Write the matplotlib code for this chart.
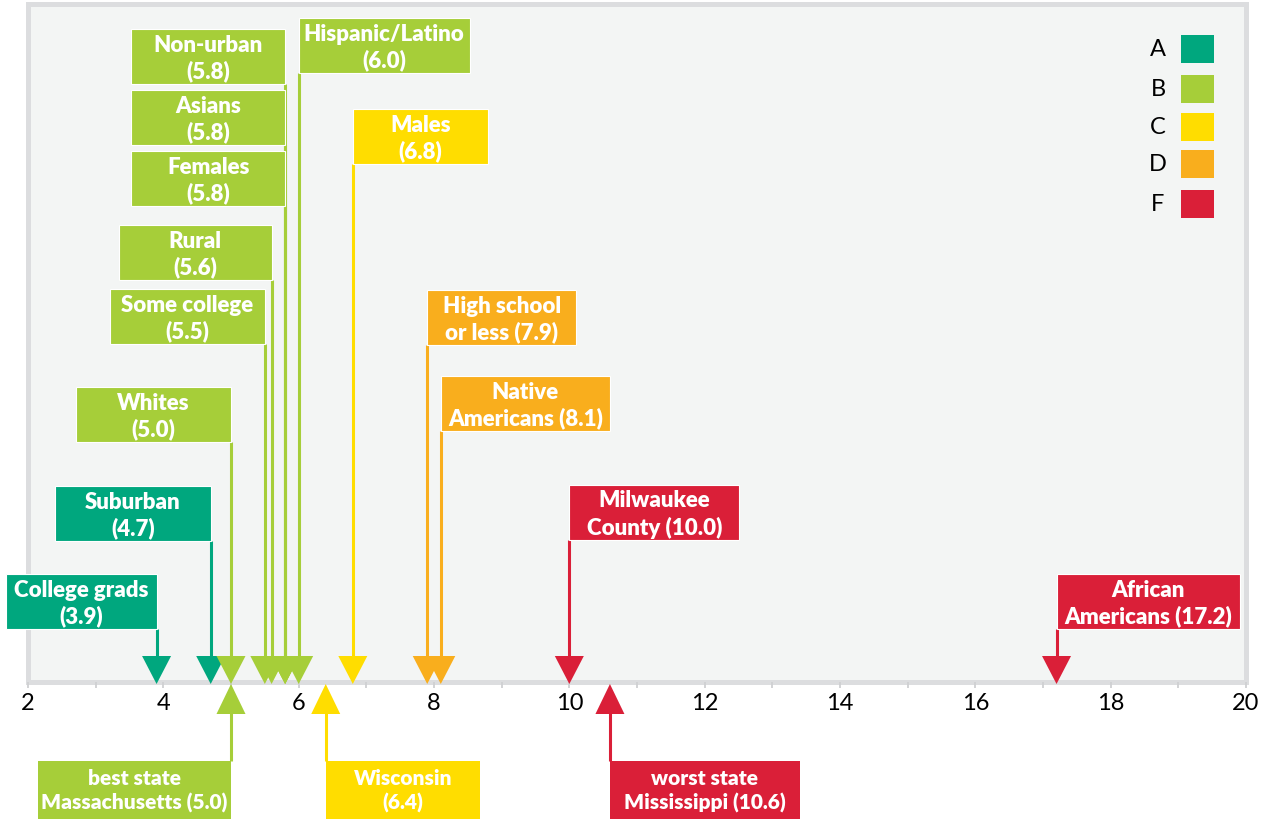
import numpy as np
import matplotlib
matplotlib.use('Agg')
import matplotlib.pyplot as plt
from matplotlib.patches import Rectangle, Polygon

# grades and their colours
grade_names = ['A', 'B', 'C', 'D', 'F']
grade_colors = ['#00a77e', '#a6ce39', '#ffdd00', '#f9ae1d', '#da1f38']

# group values (above the axis)
labels = ['College grads', 'Suburban', 'Whites', 'Some college', 'Rural',
          'Females', 'Asians', 'Non-urban', 'Hispanic/Latino', 'Males',
          'High school\nor less', 'Native\nAmericans', 'Milwaukee\nCounty',
          'African\nAmericans']
values = [3.9, 4.7, 5.0, 5.5, 5.6, 5.8, 5.8, 5.8, 6.0, 6.8, 7.9, 8.1, 10.0, 17.2]
grades = ['A', 'A', 'B', 'B', 'B', 'B', 'B', 'B', 'B', 'C', 'D', 'D', 'F', 'F']

# state references (below the axis)
ref_labels = ['best state\nMassachusetts', 'Wisconsin', 'worst state\nMississippi']
ref_values = [5.0, 6.4, 10.6]
ref_grades = ['B', 'C', 'F']

xticks = [2, 4, 6, 8, 10, 12, 14, 16, 18, 20]

# layout of the label boxes (pixels)
box_side = ['L'] * 8 + ['R'] * 6
box_width = [151, 156, 155, 155, 153, 154, 154, 154, 171, 135, 149, 169, 170, 183]
box_top = [575, 487, 388, 290, 226, 152, 91, 30, 19, 110, 291, 377, 486, 575]
ref_side = ['L', 'R', 'R']
ref_width = [193, 154, 190]

W, H = 1262, 820
PX = 1218 / 18.  # pixels per unit
AXIS_Y = 683
BOX_H = 55
TRI_HW = 14.5 / PX


def px(xp):
    '''convert a pixel column to axis units'''
    return 2 + (xp - 28) / PX


def fmt(label, v):
    if '\n' in label:
        return '%s (%.1f)' % (label, v)
    return '%s\n(%.1f)' % (label, v)


color_of = dict(zip(grade_names, grade_colors))

fig = plt.figure(figsize=(W / 100., H / 100.), dpi=100)
ax = fig.add_axes([0, 0, 1, 1])
ax.set_xlim(px(0), px(W))
ax.set_ylim(H, 0)
ax.set_facecolor('white')
for s in ['top', 'left', 'right']:
    ax.spines[s].set_visible(False)
ax.spines['bottom'].set_position(('data', AXIS_Y))
ax.spines['bottom'].set_linewidth(0)
ax.set_yticks([])
ax.set_xticks(xticks)
ax.set_xticks(np.arange(3, 20, 2), minor=True)
ax.tick_params(axis='x', which='both', direction='out', length=4.5, width=1.3,
               color='#cfd0d2', labelsize=17, pad=3)
for lab in ax.get_xticklabels():
    lab.set_fontfamily('Lato')

# panel
ax.add_patch(Rectangle((px(27.5), 4.5), px(1245.5) - px(27.5), AXIS_Y - 4.5,
                       facecolor='#f3f5f4', edgecolor='#dcdddf', lw=3.6, zorder=0))

txt = dict(color='white', fontsize=16, fontweight='heavy', family='Lato',
           ha='center', va='center', linespacing=1.28, zorder=5)

# boxes above the axis
for lab, v, g, side, w, top in zip(labels, values, grades, box_side, box_width, box_top):
    c = color_of[g]
    x0 = v - w / PX if side == 'L' else v
    ax.add_patch(Rectangle((x0, top), w / PX, BOX_H, facecolor=c,
                           edgecolor='white', lw=0.8, zorder=3))
    ax.text(x0 + w / PX / 2., top + BOX_H / 2. + 1, fmt(lab, v), **txt)
    ax.plot([v, v], [top + BOX_H, AXIS_Y - 26], color=c, lw=2.2, zorder=2,
            solid_capstyle='butt')

for v, g in sorted(zip(values, grades)):
    ax.add_patch(Polygon([(v - TRI_HW, AXIS_Y - 26), (v + TRI_HW, AXIS_Y - 26), (v, AXIS_Y + 2)],
                         closed=True, facecolor=color_of[g], edgecolor='none', zorder=4))

# state references below the axis
for lab, v, g, side, w in zip(ref_labels, ref_values, ref_grades, ref_side, ref_width):
    c = color_of[g]
    x0 = v - w / PX if side == 'L' else v
    ax.add_patch(Rectangle((x0, 762), w / PX, 80, facecolor=c, edgecolor='none', zorder=3))
    t = dict(txt)
    t['fontsize'] = 15
    t['linespacing'] = 1.3
    ax.text(x0 + w / PX / 2., 791, fmt(lab, v), **t)
    ax.plot([v, v], [714, 762], color=c, lw=2.2, zorder=2, solid_capstyle='butt')
    ax.add_patch(Polygon([(v - TRI_HW, 715), (v + TRI_HW, 715), (v, 685)],
                         closed=True, facecolor=c, edgecolor='none', zorder=4))

# legend
leg_y = [50, 89.5, 127.5, 164.5, 204.5]
for g, c, y in zip(grade_names, grade_colors, leg_y):
    ax.text(px(1158), y, g, fontsize=17, family='Lato', ha='center', va='center', color='black')
    ax.add_patch(Rectangle((px(1181), y - 14), 33 / PX, 28, facecolor=c, edgecolor='none', zorder=3))

plt.savefig('out.png', dpi=100)
